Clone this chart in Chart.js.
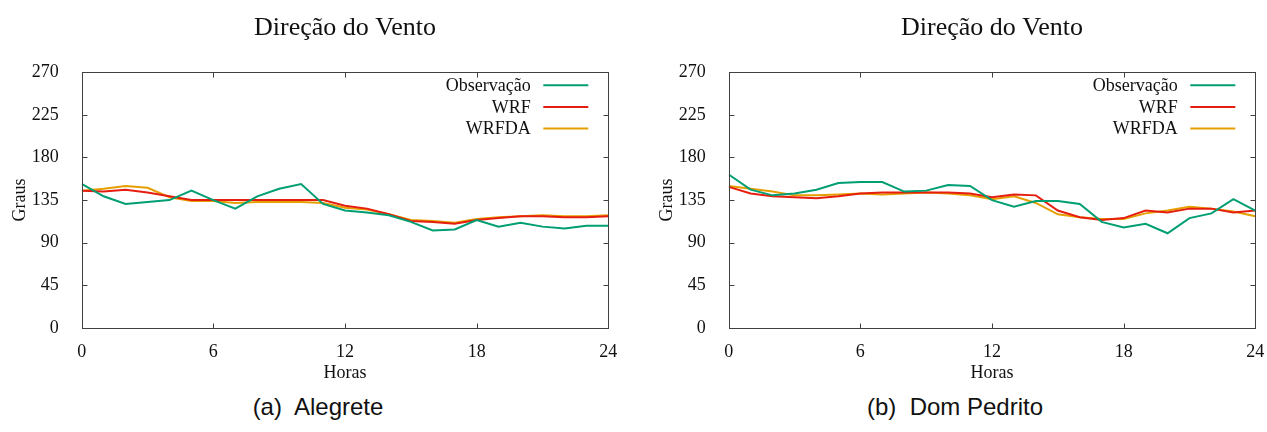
<!DOCTYPE html>
<html lang="pt">
<head>
<meta charset="utf-8">
<script src="https://cdn.jsdelivr.net/npm/chart.js@4.4.1/dist/chart.umd.min.js"></script>
<style>
  html, body { margin: 0; padding: 0; background: #fff; overflow: hidden; }
  body { width: 1267px; height: 432px; position: relative; }
  .plot { position: absolute; top: 0; width: 620px; height: 392px; }
  .caption {
    position: absolute; top: 392px; height: 30px; line-height: 30px;
    font-family: "Liberation Sans", Arial, sans-serif; font-size: 24px;
    color: #111; text-align: center; white-space: pre;
  }
</style>
</head>
<body>
<div class="plot" style="left:0px"><canvas id="alegrete"></canvas></div>
<div class="plot" style="left:647px"><canvas id="domPedrito"></canvas></div>
<div class="caption" style="left:0px; width:636px">(a)  Alegrete</div>
<div class="caption" style="left:643px; width:624px">(b)  Dom Pedrito</div>
<script>
// hours 0..24
const horas = [0, 1, 2, 3, 4, 5, 6, 7, 8, 9, 10, 11, 12, 13, 14, 15, 16, 17, 18, 19, 20, 21, 22, 23, 24];
const seriesLabels = ["Observação", "WRF", "WRFDA"];
const seriesColors = ["#009e73", "#e51e10", "#e69f00"];

const alegreteObs = [152, 139, 131, 133, 135, 145, 135, 126, 139, 147, 152, 131, 124, 122, 119, 112, 103, 104, 114, 107, 111, 107, 105, 108, 108];
const alegreteWrf = [145, 144, 146, 143, 139, 135, 135, 135, 135, 135, 135, 135, 129, 126, 120, 113, 112, 110, 114, 116, 118, 118, 117, 117, 118];
const alegreteWrfda = [145, 147, 150, 148, 138, 134, 134, 132, 133, 133, 133, 132, 127, 125, 120, 114, 113, 111, 115, 117, 118, 119, 118, 118, 119];

const domPedritoObs = [162, 146, 140, 142, 146, 153, 154, 154, 144, 145, 151, 150, 135, 128, 134, 134, 131, 112, 106, 110, 100, 116, 121, 136, 124];
const domPedritoWrf = [149, 142, 139, 138, 137, 139, 142, 143, 143, 143, 143, 142, 138, 141, 140, 124, 117, 114, 116, 124, 122, 126, 126, 122, 124];
const domPedritoWrfda = [150, 147, 144, 140, 140, 141, 142, 141, 142, 143, 142, 140, 136, 139, 132, 120, 117, 115, 115, 121, 124, 128, 126, 123, 118];

const xMax = 24;
const xStep = 6;
const yMax = 270;
const yStep = 45;

const serif = "'Liberation Serif', 'Times New Roman', serif";
Chart.defaults.color = "#111";

// gnuplot-like box with inward ticks on all sides + legend inside the plot
const gnuplotFrame = {
  id: "gnuplotFrame",
  afterDatasetsDraw(chart) {
    const { ctx, chartArea, scales } = chart;
    const left = Math.round(chartArea.left) + 0.5;
    const right = Math.round(chartArea.right) + 0.5;
    const top = Math.round(chartArea.top) + 0.5;
    const bottom = Math.round(chartArea.bottom) + 0.5;
    const tick = 5;

    ctx.save();
    ctx.strokeStyle = "#404040";
    ctx.lineWidth = 1;
    ctx.strokeRect(left, top, right - left, bottom - top);
    ctx.beginPath();
    scales.x.ticks.forEach((t) => {
      const px = Math.round(scales.x.getPixelForValue(t.value)) + 0.5;
      ctx.moveTo(px, bottom); ctx.lineTo(px, bottom - tick);
      ctx.moveTo(px, top); ctx.lineTo(px, top + tick);
    });
    scales.y.ticks.forEach((t) => {
      const py = Math.round(scales.y.getPixelForValue(t.value)) + 0.5;
      ctx.moveTo(left, py); ctx.lineTo(left + tick, py);
      ctx.moveTo(right, py); ctx.lineTo(right - tick, py);
    });
    ctx.stroke();

    // legend: text right aligned, sample line to the right
    ctx.font = `18px ${serif}`;
    ctx.textAlign = "right";
    ctx.textBaseline = "middle";
    chart.data.datasets.forEach((ds, i) => {
      const y = chartArea.top + 13 + i * 21.7;
      ctx.fillStyle = "#111";
      ctx.fillText(ds.label, chartArea.right - 77.5, y + 1);
      ctx.strokeStyle = ds.borderColor;
      ctx.lineWidth = 2;
      ctx.beginPath();
      ctx.moveTo(chartArea.right - 65, y);
      ctx.lineTo(chartArea.right - 20, y);
      ctx.stroke();
    });
    ctx.restore();
  },
};

const buildDatasets = (values) =>
  values.map((serie, i) => ({
    label: seriesLabels[i],
    data: horas.map((h, j) => ({ x: h, y: serie[j] })),
    borderColor: seriesColors[i],
    backgroundColor: seriesColors[i],
    borderWidth: 2,
    pointRadius: 0,
    tension: 0,
  }));

const renderWindChart = (canvasId, values) =>
  new Chart(document.getElementById(canvasId), {
    type: "line",
    data: { datasets: buildDatasets(values) },
    options: {
      responsive: true,
      maintainAspectRatio: false,
      animation: false,
      layout: { padding: { left: 0, right: 11.7, top: 0, bottom: 0 } },
      plugins: {
        legend: { display: false },
        tooltip: { enabled: false },
        title: {
          display: true,
          text: "Direção do Vento",
          fullSize: false,
          color: "#111",
          font: { family: serif, size: 26, weight: "normal" },
          padding: { top: 13, bottom: 28 },
        },
      },
      scales: {
        x: {
          type: "linear",
          min: 0,
          max: xMax,
          grid: { display: false },
          border: { display: false },
          ticks: { stepSize: xStep, padding: 5, maxRotation: 0, font: { family: serif, size: 18 } },
          title: {
            display: true,
            text: "Horas",
            font: { family: serif, size: 18 },
            padding: { top: 0, bottom: 8 },
          },
          afterFit: (scale) => {
            scale.height = 64;
            scale.paddingLeft = 0;
            scale.paddingRight = 0;
          },
        },
        y: {
          type: "linear",
          min: 0,
          max: yMax,
          grid: { display: false },
          border: { display: false },
          ticks: { stepSize: yStep, padding: 15, font: { family: serif, size: 18 } },
          title: {
            display: true,
            text: "Graus",
            font: { family: serif, size: 18 },
            padding: { top: 9, bottom: 0 },
          },
          afterFit: (scale) => {
            scale.width = 81.7;
            scale.paddingTop = 0;
            scale.paddingBottom = 0;
          },
        },
      },
    },
    plugins: [gnuplotFrame],
  });

renderWindChart("alegrete", [alegreteObs, alegreteWrf, alegreteWrfda]);
renderWindChart("domPedrito", [domPedritoObs, domPedritoWrf, domPedritoWrfda]);
</script>
</body>
</html>
